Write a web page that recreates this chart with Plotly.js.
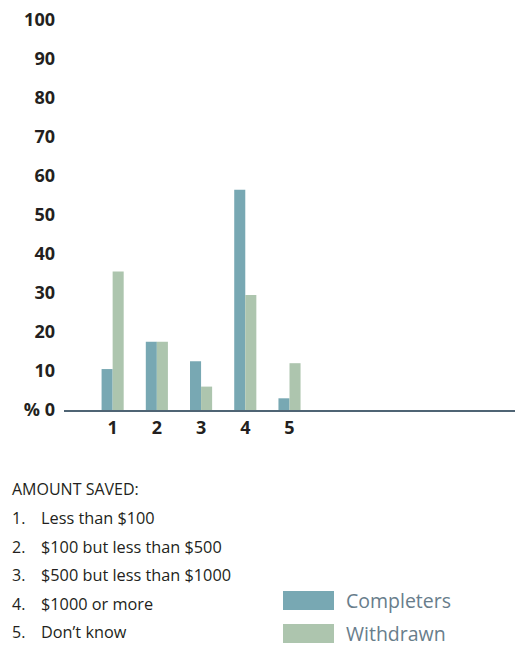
<!DOCTYPE html>
<html>
<head>
<meta charset="utf-8">
<script src="https://cdn.plot.ly/plotly-3.0.1.min.js"></script>
<style>
  html, body { margin: 0; padding: 0; background: #fff; }
  #chart { width: 515px; height: 646px; }
</style>
</head>
<body>
<div id="chart"></div>
<script>
// amount saved categories (numbered on the x axis)
let categories = [1, 2, 3, 4, 5];
let categoryLabels = ["1", "2", "3", "4", "5"];
let categoryNames = [
    "Less than $100",
    "$100 but less than $500",
    "$500 but less than $1000",
    "$1000 or more",
    "Don\u2019t know"
];

// percent of group
let completers = [10.5, 17.5, 12.5, 56.5, 3];
let withdrawn = [35.5, 17.5, 6, 29.5, 12];

let seriesNames = ["Completers", "Withdrawn"];
let seriesColors = ["#78a8b3", "#adc5ae"];

let yTicks = [0, 10, 20, 30, 40, 50, 60, 70, 80, 90, 100];
let yTickText = ["% 0", "10", "20", "30", "40", "50", "60", "70", "80", "90", "100"];

// plot area in pixels: x 64..515, y 20..410
const L = 64, R = 515, T = 20, B = 410;
function px(x) { return (x - L) / (R - L); }
function py(y) { return (B - y) / (B - T); }

let font = "'Open Sans', 'Noto Sans', sans-serif";

let annotations = [{
    text: "AMOUNT SAVED:",
    xref: "paper", yref: "paper",
    x: px(10), y: py(489), xanchor: "left", yanchor: "middle",
    showarrow: false,
    font: {family: font, size: 16, color: "#231f20"}
}];
categoryNames.forEach((name, i) => {
    let yy = py(518 + i * 28.6);
    annotations.push({
        text: categoryLabels[i] + ".",
        xref: "paper", yref: "paper",
        x: px(10), y: yy, xanchor: "left", yanchor: "middle",
        showarrow: false,
        font: {family: font, size: 16, color: "#231f20"}
    });
    annotations.push({
        text: name,
        xref: "paper", yref: "paper",
        x: px(39), y: yy, xanchor: "left", yanchor: "middle",
        showarrow: false,
        font: {family: font, size: 16.3, color: "#231f20"}
    });
});

// legend drawn as large swatches
let shapes = [];
seriesNames.forEach((name, i) => {
    let top = 591 + i * 33;
    shapes.push({
        type: "rect", xref: "paper", yref: "paper",
        x0: px(283), x1: px(334), y0: py(top), y1: py(top + 19),
        fillcolor: seriesColors[i], line: {width: 0}
    });
    annotations.push({
        text: name,
        xref: "paper", yref: "paper",
        x: px(344), y: py(top + 9), xanchor: "left", yanchor: "middle",
        showarrow: false,
        font: {family: font, size: 19.5, color: "#687d8b"}
    });
});

let data = [
    {
        type: "bar", name: seriesNames[0],
        x: categories, y: completers,
        marker: {color: seriesColors[0]},
        hoverinfo: "none"
    },
    {
        type: "bar", name: seriesNames[1],
        x: categories, y: withdrawn,
        marker: {color: seriesColors[1]},
        hoverinfo: "none"
    }
];

let layout = {
    width: 515,
    height: 646,
    margin: {l: L, r: 515 - R, t: T, b: 646 - B, pad: 0},
    paper_bgcolor: "#ffffff",
    plot_bgcolor: "#ffffff",
    showlegend: false,
    barmode: "group",
    bargap: 0.5,
    bargroupgap: 0,
    font: {family: font, color: "#231f20"},
    xaxis: {
        range: [-0.1, 10.1],
        tickvals: categories,
        ticktext: categoryLabels,
        showgrid: false,
        zeroline: false,
        showline: true,
        linecolor: "#4f6474",
        linewidth: 2,
        ticks: "",
        tickfont: {family: font, size: 18, color: "#231f20", weight: "bold"}
    },
    yaxis: {
        range: [0, 100],
        tickvals: yTicks,
        ticktext: yTickText,
        showgrid: false,
        zeroline: false,
        showline: false,
        ticks: "",
        ticklabelstandoff: 8,
        tickfont: {family: font, size: 18, color: "#231f20", weight: "bold"}
    },
    shapes: shapes,
    annotations: annotations
};

Plotly.newPlot("chart", data, layout, {displayModeBar: false, staticPlot: true});
</script>
</body>
</html>
